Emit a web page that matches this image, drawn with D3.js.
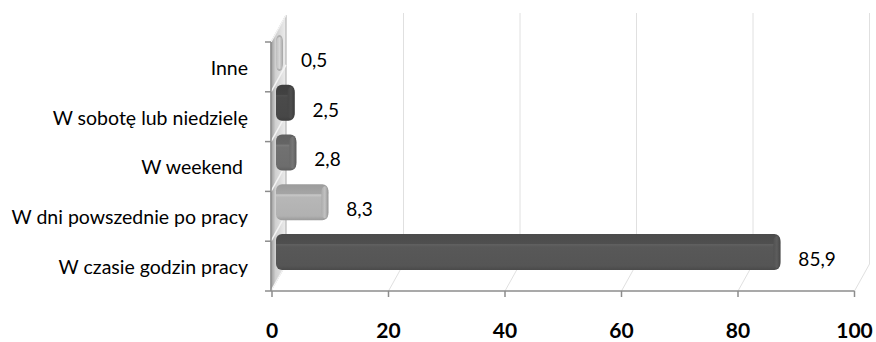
<!DOCTYPE html>
<html><head><meta charset="utf-8">
<script src="https://cdn.jsdelivr.net/npm/d3@7"></script>
<style>
html,body{margin:0;padding:0;background:#fff;}
svg{display:block;}
</style></head>
<body>
<svg id="chart" width="876" height="342"></svg>
<script>
// ---- data ----
const categories = ["Inne", "W sobotę lub niedzielę", "W weekend ", "W dni powszednie po pracy", "W czasie godzin pracy"];
const values = [0.5, 2.5, 2.8, 8.3, 85.9];
const valueLabels = ["0,5", "2,5", "2,8", "8,3", "85,9"];
const barColors = ["#c4c4c4", "#474747", "#6d6d6d", "#b1b1b1", "#555555"];
const xTicks = [0, 20, 40, 60, 80, 100];

// ---- layout ----
const svg = d3.select("#chart");
const x = d3.scaleLinear().domain([0, 100]).range([272, 854.5]);
const y = d3.scaleBand().domain(categories).range([42, 291]);
const DX = 15, DY = -27;
const floorY = 291, topY = 13;
const labelFont = "Lato, 'Carlito', 'Open Sans', sans-serif";

const defs = svg.append("defs");

// left wall gradient
const wg = defs.append("linearGradient").attr("id", "wallg").attr("x1", 0).attr("x2", 1).attr("y1", 0).attr("y2", 0);
wg.append("stop").attr("offset", "0%").attr("stop-color", "#9a9a9a");
wg.append("stop").attr("offset", "30%").attr("stop-color", "#d0d0d0");
wg.append("stop").attr("offset", "100%").attr("stop-color", "#ededed");

// back wall gridlines
svg.append("g").selectAll("line").data(xTicks.slice(1)).join("line")
  .attr("x1", d => x(d) + DX).attr("x2", d => x(d) + DX)
  .attr("y1", topY).attr("y2", floorY + DY)
  .attr("stroke", "#e0e0e0").attr("stroke-width", 1);
// floor diagonals
svg.append("g").selectAll("line").data(xTicks.slice(1)).join("line")
  .attr("x1", d => x(d)).attr("x2", d => x(d) + DX)
  .attr("y1", floorY).attr("y2", floorY + DY)
  .attr("stroke", "#e0e0e0").attr("stroke-width", 1);

// left wall
const x0 = x(0) - 1;
svg.append("path")
  .attr("d", `M${x0},${y.range()[0]} L${x0 + DX},${topY + 2} L${x0 + DX},${floorY + DY} L${x0},${floorY} Z`)
  .attr("fill", "url(#wallg)").attr("stroke", "#a8a8a8").attr("stroke-width", 1);
// left wall category diagonals
const bandEdges = categories.map(c => y(c)).concat([y.range()[1]]);
svg.append("g").selectAll("line").data(bandEdges).join("line")
  .attr("x1", x0).attr("y1", d => d)
  .attr("x2", x0 + DX).attr("y2", d => d + DY)
  .attr("stroke", "#f4f4f4").attr("stroke-width", 1.5);

// bars
function shade(c, k) { return d3.color(c).darker(k).formatHex(); }
function tint(c, k) { return d3.color(c).brighter(k).formatHex(); }
categories.forEach((c, i) => {
  const col = barColors[i];
  const g = defs.append("linearGradient").attr("id", "bg" + i).attr("x1", 0).attr("x2", 0).attr("y1", 0).attr("y2", 1);
  g.append("stop").attr("offset", "0%").attr("stop-color", shade(col, 0.35));
  g.append("stop").attr("offset", "27%").attr("stop-color", shade(col, 0.2));
  g.append("stop").attr("offset", "29%").attr("stop-color", tint(col, 0.35));
  g.append("stop").attr("offset", "36%").attr("stop-color", tint(col, 0.1));
  g.append("stop").attr("offset", "88%").attr("stop-color", col);
  g.append("stop").attr("offset", "100%").attr("stop-color", shade(col, 0.4));
  const ge = defs.append("linearGradient").attr("id", "be" + i).attr("x1", 0).attr("x2", 1).attr("y1", 0).attr("y2", 0);
  ge.append("stop").attr("offset", "0%").attr("stop-color", shade(col, 0.1));
  ge.append("stop").attr("offset", "50%").attr("stop-color", tint(col, 0.25));
  ge.append("stop").attr("offset", "100%").attr("stop-color", shade(col, 0.5));
});

const barG = svg.append("g");
const cy = d => y(d) + y.bandwidth() / 2;
barG.selectAll("rect.bar").data(categories).join("rect")
  .attr("class", "bar")
  .attr("x", x(0) + 4)
  .attr("y", d => cy(d) - 32)
  .attr("width", (d, i) => Math.max(3, x(values[i]) + 8 - (x(0) + 4)))
  .attr("height", 36)
  .attr("rx", 6).attr("ry", 6)
  .attr("fill", (d, i) => `url(#bg${i})`);
barG.selectAll("rect.cap").data(categories).join("rect")
  .attr("class", "cap")
  .attr("x", (d, i) => Math.max(x(0) + 4, x(values[i]) + 8 - 7))
  .attr("y", d => cy(d) - 30)
  .attr("width", 7)
  .attr("height", 32)
  .attr("rx", 3.5).attr("ry", 6)
  .attr("fill", (d, i) => `url(#be${i})`);

// axes lines
svg.append("line").attr("x1", x0).attr("x2", x(100)).attr("y1", floorY).attr("y2", floorY)
  .attr("stroke", "#8c8c8c").attr("stroke-width", 1.5);
svg.append("line").attr("x1", x0).attr("x2", x0).attr("y1", y.range()[0]).attr("y2", floorY)
  .attr("stroke", "#8c8c8c").attr("stroke-width", 1.5);
svg.append("g").selectAll("line").data(xTicks).join("line")
  .attr("x1", d => x(d)).attr("x2", d => x(d)).attr("y1", floorY).attr("y2", floorY + 6)
  .attr("stroke", "#8c8c8c").attr("stroke-width", 1.5);
svg.append("g").selectAll("line").data(bandEdges).join("line")
  .attr("x1", x0 - 6).attr("x2", x0).attr("y1", d => d).attr("y2", d => d)
  .attr("stroke", "#8c8c8c").attr("stroke-width", 1.5);

// category labels
svg.append("g").selectAll("text").data(categories).join("text")
  .attr("x", 248).attr("y", d => cy(d) + 3)
  .attr("text-anchor", "end").attr("dominant-baseline", "middle")
  .attr("font-family", labelFont).attr("font-size", 19.5).attr("fill", "#000")
  .style("white-space", "pre")
  .text(d => d);

// value labels
svg.append("g").selectAll("text").data(categories).join("text")
  .attr("x", (d, i) => x(values[i]) + 26).attr("y", d => cy(d) - 5)
  .attr("dominant-baseline", "middle")
  .attr("font-family", labelFont).attr("font-size", 19).attr("fill", "#000")
  .text((d, i) => valueLabels[i]);

// x tick labels
svg.append("g").selectAll("text").data(xTicks).join("text")
  .attr("x", d => x(d)).attr("y", 333)
  .attr("text-anchor", "middle").attr("dominant-baseline", "middle")
  .attr("font-family", labelFont).attr("font-weight", "bold").attr("font-size", 21).attr("fill", "#000")
  .text(d => d);
</script>
</body></html>
